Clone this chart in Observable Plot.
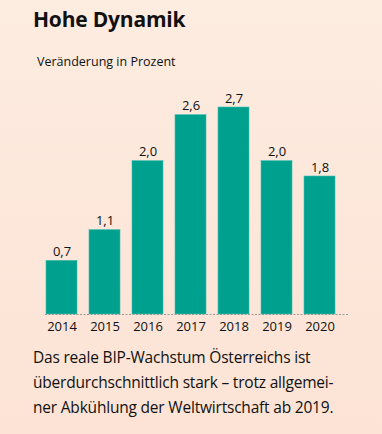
<!DOCTYPE html>
<html>
<head>
<meta charset="utf-8">
<script src="https://cdn.jsdelivr.net/npm/d3@7"></script>
<script src="https://cdn.jsdelivr.net/npm/@observablehq/plot@0.6"></script>
<style>
  html, body { margin: 0; padding: 0; }
  body { width: 382px; height: 434px; overflow: hidden;
    background: linear-gradient(#fdece0, #fce3d5); font-family: "Open Sans", "Noto Sans", sans-serif; position: relative; }
  #title { position: absolute; left: 33px; top: 5px; font-size: 21px; font-weight: 700; color: #111; letter-spacing: -0.2px; }
  #subtitle { position: absolute; left: 37px; top: 53px; font-size: 12.5px; color: #111; }
  #chart { position: absolute; left: 0; top: 70px; }
  #caption { position: absolute; left: 33px; top: 345px; font-size: 15.5px; line-height: 25px; color: #111; letter-spacing: -0.2px; }
</style>
</head>
<body>
<div id="title">Hohe Dynamik</div>
<div id="subtitle">Veränderung in Prozent</div>
<div id="chart"></div>
<div id="caption">Das reale BIP-Wachstum Österreichs ist<br>überdurchschnittlich stark – trotz allgemei-<br>ner Abkühlung der Weltwirtschaft ab 2019.</div>
<script>
const years = ["2014", "2015", "2016", "2017", "2018", "2019", "2020"];
const values = [0.7, 1.1, 2.0, 2.6, 2.7, 2.0, 1.8];
const labels = ["0,7", "1,1", "2,0", "2,6", "2,7", "2,0", "1,8"];
const data = years.map((y, i) => ({year: y, value: values[i], label: labels[i]}));

const chart = Plot.plot({
  width: 382,
  height: 270,
  marginLeft: 45,
  marginRight: 34,
  marginTop: 14,
  marginBottom: 26,
  style: {background: "transparent", fontFamily: "'Open Sans', 'Noto Sans', sans-serif"},
  x: {domain: years, paddingInner: 0.28, paddingOuter: 0.14, align: 0.08, label: null, tickSize: 0, tickPadding: 6},
  y: {domain: [0, 3], axis: null},
  marks: [
    Plot.barY(data, {x: "year", y: "value", fill: "#00a08f", stroke: "#3fbfb0", strokeWidth: 0.6}),
    Plot.ruleY([0], {stroke: "#9a9a9a", strokeDasharray: "2,1.5", strokeWidth: 1}),
    Plot.text(data, {x: "year", y: "value", text: "label", dy: -9, fontSize: 13, fill: "#111"}),
    Plot.axisX({tickSize: 0, tickPadding: 7, fontSize: 13, fill: "#111", label: null})
  ]
});
chart.querySelectorAll("g[aria-label='x-axis tick label'] text, g[aria-label='x-axis tick label']").forEach(e => { e.setAttribute("font-size", 13); });
document.getElementById("chart").appendChild(chart);
</script>
</body>
</html>
